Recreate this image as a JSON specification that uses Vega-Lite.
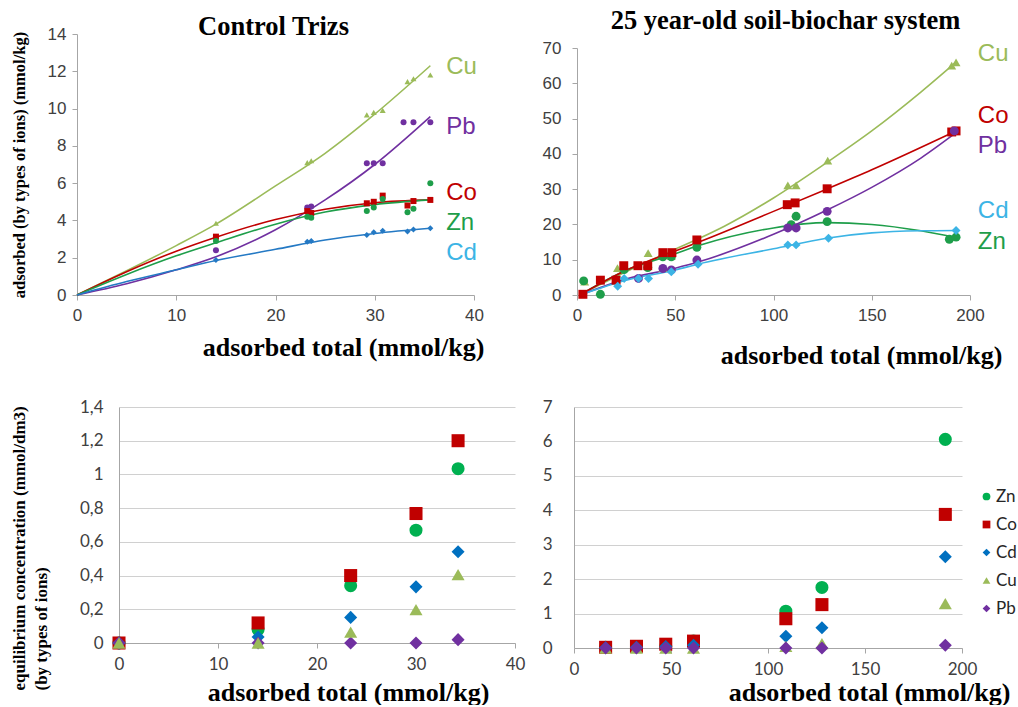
{
  "$schema": "https://vega.github.io/schema/vega-lite/v6.json",
  "padding": {"left": 10, "top": 7, "right": 0, "bottom": 0},
  "background": "white",
  "config": {
    "view": {"stroke": null},
    "axis": {"labelFlush": false, "labelOverlap": false, "domainColor": "#a6a6a6", "tickColor": "#a6a6a6", "titleColor": "black", "labelColor": "#404040"}
  },
  "datasets": {
    "tl_pts": [
      {"x": 14, "y": 3.85, "ion": "Cu"}, {"x": 23.2, "y": 7.1, "ion": "Cu"}, {"x": 23.6, "y": 7.2, "ion": "Cu"}, {"x": 29.2, "y": 9.66, "ion": "Cu"}, {"x": 29.9, "y": 9.8, "ion": "Cu"}, {"x": 30.8, "y": 9.9, "ion": "Cu"}, {"x": 33.3, "y": 11.45, "ion": "Cu"}, {"x": 33.9, "y": 11.6, "ion": "Cu"}, {"x": 35.6, "y": 11.8, "ion": "Cu"},
      {"x": 14, "y": 2.4, "ion": "Pb"}, {"x": 23.2, "y": 4.7, "ion": "Pb"}, {"x": 23.6, "y": 4.75, "ion": "Pb"}, {"x": 29.2, "y": 7.07, "ion": "Pb"}, {"x": 29.9, "y": 7.07, "ion": "Pb"}, {"x": 30.8, "y": 7.07, "ion": "Pb"}, {"x": 32.9, "y": 9.27, "ion": "Pb"}, {"x": 33.9, "y": 9.27, "ion": "Pb"}, {"x": 35.6, "y": 9.27, "ion": "Pb"},
      {"x": 14, "y": 3.13, "ion": "Co"}, {"x": 23.2, "y": 4.5, "ion": "Co"}, {"x": 23.6, "y": 4.4, "ion": "Co"}, {"x": 29.2, "y": 4.92, "ion": "Co"}, {"x": 29.9, "y": 5.0, "ion": "Co"}, {"x": 30.8, "y": 5.33, "ion": "Co"}, {"x": 33.3, "y": 4.8, "ion": "Co"}, {"x": 33.9, "y": 5.04, "ion": "Co"}, {"x": 35.6, "y": 5.1, "ion": "Co"},
      {"x": 14, "y": 2.9, "ion": "Zn"}, {"x": 23.2, "y": 4.2, "ion": "Zn"}, {"x": 23.6, "y": 4.15, "ion": "Zn"}, {"x": 29.2, "y": 4.5, "ion": "Zn"}, {"x": 29.9, "y": 4.69, "ion": "Zn"}, {"x": 30.8, "y": 5.15, "ion": "Zn"}, {"x": 33.3, "y": 4.44, "ion": "Zn"}, {"x": 33.9, "y": 4.62, "ion": "Zn"}, {"x": 35.6, "y": 6.0, "ion": "Zn"},
      {"x": 14, "y": 1.88, "ion": "Cd"}, {"x": 23.2, "y": 2.85, "ion": "Cd"}, {"x": 23.6, "y": 2.9, "ion": "Cd"}, {"x": 29.2, "y": 3.22, "ion": "Cd"}, {"x": 29.9, "y": 3.36, "ion": "Cd"}, {"x": 30.8, "y": 3.45, "ion": "Cd"}, {"x": 33.3, "y": 3.4, "ion": "Cd"}, {"x": 33.9, "y": 3.52, "ion": "Cd"}, {"x": 35.6, "y": 3.58, "ion": "Cd"}
    ],
    "tl_fit": [
      {"x": 0, "y": 0, "ion": "Cu"}, {"x": 5, "y": 1.3, "ion": "Cu"}, {"x": 10, "y": 2.65, "ion": "Cu"}, {"x": 14, "y": 3.8, "ion": "Cu"}, {"x": 20, "y": 5.85, "ion": "Cu"}, {"x": 25, "y": 7.6, "ion": "Cu"}, {"x": 30, "y": 9.7, "ion": "Cu"}, {"x": 35.6, "y": 12.3, "ion": "Cu"},
      {"x": 0, "y": 0, "ion": "Pb"}, {"x": 5, "y": 0.6, "ion": "Pb"}, {"x": 10, "y": 1.35, "ion": "Pb"}, {"x": 14, "y": 2.05, "ion": "Pb"}, {"x": 20, "y": 3.5, "ion": "Pb"}, {"x": 25, "y": 5.1, "ion": "Pb"}, {"x": 30, "y": 7.0, "ion": "Pb"}, {"x": 35.6, "y": 9.57, "ion": "Pb"},
      {"x": 0, "y": 0, "ion": "Co"}, {"x": 5, "y": 1.25, "ion": "Co"}, {"x": 10, "y": 2.35, "ion": "Co"}, {"x": 14, "y": 3.1, "ion": "Co"}, {"x": 20, "y": 4.05, "ion": "Co"}, {"x": 25, "y": 4.6, "ion": "Co"}, {"x": 30, "y": 4.95, "ion": "Co"}, {"x": 35.6, "y": 5.1, "ion": "Co"},
      {"x": 0, "y": 0, "ion": "Zn"}, {"x": 5, "y": 1.1, "ion": "Zn"}, {"x": 10, "y": 2.1, "ion": "Zn"}, {"x": 14, "y": 2.8, "ion": "Zn"}, {"x": 20, "y": 3.8, "ion": "Zn"}, {"x": 25, "y": 4.45, "ion": "Zn"}, {"x": 30, "y": 4.85, "ion": "Zn"}, {"x": 35.6, "y": 5.1, "ion": "Zn"},
      {"x": 0, "y": 0, "ion": "Cd"}, {"x": 5, "y": 0.72, "ion": "Cd"}, {"x": 10, "y": 1.35, "ion": "Cd"}, {"x": 14, "y": 1.85, "ion": "Cd"}, {"x": 20, "y": 2.45, "ion": "Cd"}, {"x": 25, "y": 2.95, "ion": "Cd"}, {"x": 30, "y": 3.3, "ion": "Cd"}, {"x": 35.6, "y": 3.58, "ion": "Cd"}
    ],
    "tl_lab": [
      {"x": 37.2, "y": 12.25, "ion": "Cu"}, {"x": 37.2, "y": 9.0, "ion": "Pb"}, {"x": 37.2, "y": 5.49, "ion": "Co"}, {"x": 37.2, "y": 3.85, "ion": "Zn"}, {"x": 37.2, "y": 2.24, "ion": "Cd"}
    ],
    "tr_pts": [
      {"x": 3.9, "y": 3.8, "ion": "Cu"}, {"x": 20.6, "y": 7.6, "ion": "Cu"}, {"x": 36.2, "y": 11.9, "ion": "Cu"}, {"x": 43.7, "y": 7.6, "ion": "Cu"}, {"x": 48, "y": 11, "ion": "Cu"}, {"x": 61, "y": 15.3, "ion": "Cu"}, {"x": 107.3, "y": 31.1, "ion": "Cu"}, {"x": 111.5, "y": 31.1, "ion": "Cu"}, {"x": 127.6, "y": 38.1, "ion": "Cu"}, {"x": 190.7, "y": 65, "ion": "Cu"}, {"x": 192.9, "y": 65.9, "ion": "Cu"},
      {"x": 3.4, "y": 4.0, "ion": "Zn"}, {"x": 11.9, "y": 0.2, "ion": "Zn"}, {"x": 24, "y": 7.2, "ion": "Zn"}, {"x": 36, "y": 7.8, "ion": "Zn"}, {"x": 43.7, "y": 10.8, "ion": "Zn"}, {"x": 48, "y": 10.8, "ion": "Zn"}, {"x": 61, "y": 13.5, "ion": "Zn"}, {"x": 109, "y": 19.9, "ion": "Zn"}, {"x": 111.5, "y": 22.3, "ion": "Zn"}, {"x": 127.3, "y": 20.8, "ion": "Zn"}, {"x": 189.5, "y": 15.8, "ion": "Zn"}, {"x": 192.9, "y": 16.4, "ion": "Zn"},
      {"x": 3, "y": 0.2, "ion": "Co"}, {"x": 11.9, "y": 4.2, "ion": "Co"}, {"x": 19.9, "y": 4.2, "ion": "Co"}, {"x": 23.8, "y": 8.3, "ion": "Co"}, {"x": 31, "y": 8.3, "ion": "Co"}, {"x": 36, "y": 8.3, "ion": "Co"}, {"x": 43.7, "y": 12, "ion": "Co"}, {"x": 48.3, "y": 12, "ion": "Co"}, {"x": 61, "y": 15.6, "ion": "Co"}, {"x": 107, "y": 25.6, "ion": "Co"}, {"x": 111, "y": 26.1, "ion": "Co"}, {"x": 127.3, "y": 30.1, "ion": "Co"}, {"x": 190.7, "y": 46.2, "ion": "Co"}, {"x": 192.9, "y": 46.5, "ion": "Co"},
      {"x": 31.3, "y": 4.7, "ion": "Pb"}, {"x": 43.7, "y": 7.5, "ion": "Pb"}, {"x": 48, "y": 7.1, "ion": "Pb"}, {"x": 61, "y": 9.9, "ion": "Pb"}, {"x": 107.3, "y": 19, "ion": "Pb"}, {"x": 111.5, "y": 19, "ion": "Pb"}, {"x": 127.3, "y": 23.7, "ion": "Pb"}, {"x": 192, "y": 46.5, "ion": "Pb"},
      {"x": 20.7, "y": 2.5, "ion": "Cd"}, {"x": 24, "y": 4.7, "ion": "Cd"}, {"x": 31.3, "y": 4.7, "ion": "Cd"}, {"x": 36.4, "y": 4.7, "ion": "Cd"}, {"x": 48, "y": 6.6, "ion": "Cd"}, {"x": 61.6, "y": 8.7, "ion": "Cd"}, {"x": 107.3, "y": 14.2, "ion": "Cd"}, {"x": 111.5, "y": 14.2, "ion": "Cd"}, {"x": 128, "y": 16.1, "ion": "Cd"}, {"x": 192.9, "y": 18.3, "ion": "Cd"}
    ],
    "tr_fit": [
      {"x": 3, "y": 0.5, "ion": "Cu"}, {"x": 25, "y": 6.6, "ion": "Cu"}, {"x": 50, "y": 13, "ion": "Cu"}, {"x": 62, "y": 16, "ion": "Cu"}, {"x": 75, "y": 19.5, "ion": "Cu"}, {"x": 100, "y": 27.5, "ion": "Cu"}, {"x": 127, "y": 37.5, "ion": "Cu"}, {"x": 150, "y": 46.5, "ion": "Cu"}, {"x": 175, "y": 57.5, "ion": "Cu"}, {"x": 192.9, "y": 66, "ion": "Cu"},
      {"x": 3, "y": 0.5, "ion": "Zn"}, {"x": 25, "y": 7, "ion": "Zn"}, {"x": 50, "y": 11.7, "ion": "Zn"}, {"x": 62, "y": 14, "ion": "Zn"}, {"x": 100, "y": 19, "ion": "Zn"}, {"x": 127, "y": 20.5, "ion": "Zn"}, {"x": 150, "y": 20, "ion": "Zn"}, {"x": 175, "y": 18.2, "ion": "Zn"}, {"x": 192.9, "y": 16.3, "ion": "Zn"},
      {"x": 3, "y": 0.5, "ion": "Co"}, {"x": 25, "y": 7, "ion": "Co"}, {"x": 50, "y": 12.5, "ion": "Co"}, {"x": 62, "y": 15, "ion": "Co"}, {"x": 100, "y": 23.7, "ion": "Co"}, {"x": 127, "y": 30, "ion": "Co"}, {"x": 150, "y": 35.5, "ion": "Co"}, {"x": 192.9, "y": 46.5, "ion": "Co"},
      {"x": 3, "y": 0.3, "ion": "Pb"}, {"x": 25, "y": 4.5, "ion": "Pb"}, {"x": 50, "y": 7.6, "ion": "Pb"}, {"x": 62, "y": 9.4, "ion": "Pb"}, {"x": 100, "y": 17.2, "ion": "Pb"}, {"x": 127, "y": 24, "ion": "Pb"}, {"x": 150, "y": 30.5, "ion": "Pb"}, {"x": 175, "y": 38.8, "ion": "Pb"}, {"x": 192.9, "y": 46, "ion": "Pb"},
      {"x": 3, "y": 0.3, "ion": "Cd"}, {"x": 25, "y": 4.2, "ion": "Cd"}, {"x": 50, "y": 7.1, "ion": "Cd"}, {"x": 62, "y": 8.8, "ion": "Cd"}, {"x": 100, "y": 13.1, "ion": "Cd"}, {"x": 127, "y": 16.1, "ion": "Cd"}, {"x": 150, "y": 17.6, "ion": "Cd"}, {"x": 175, "y": 18.2, "ion": "Cd"}, {"x": 192.9, "y": 18.3, "ion": "Cd"}
    ],
    "tr_lab": [
      {"x": 204, "y": 68.2, "ion": "Cu"}, {"x": 204, "y": 50.8, "ion": "Co"}, {"x": 204, "y": 42.2, "ion": "Pb"}, {"x": 204, "y": 23.9, "ion": "Cd"}, {"x": 204, "y": 15.1, "ion": "Zn"}
    ],
    "bl": [
      {"x": 0, "y": 0, "ion": "Zn"}, {"x": 14.05, "y": 0.08, "ion": "Zn"}, {"x": 23.4, "y": 0.34, "ion": "Zn"}, {"x": 30, "y": 0.669, "ion": "Zn"}, {"x": 34.25, "y": 1.034, "ion": "Zn"},
      {"x": 0, "y": 0, "ion": "Co"}, {"x": 14.05, "y": 0.119, "ion": "Co"}, {"x": 23.4, "y": 0.4, "ion": "Co"}, {"x": 30, "y": 0.768, "ion": "Co"}, {"x": 34.25, "y": 1.2, "ion": "Co"},
      {"x": 0, "y": 0, "ion": "Cd"}, {"x": 14.05, "y": 0.036, "ion": "Cd"}, {"x": 23.4, "y": 0.152, "ion": "Cd"}, {"x": 30, "y": 0.333, "ion": "Cd"}, {"x": 34.25, "y": 0.541, "ion": "Cd"},
      {"x": 0, "y": 0, "ion": "Pb"}, {"x": 14.05, "y": 0, "ion": "Pb"}, {"x": 23.4, "y": 0, "ion": "Pb"}, {"x": 30, "y": 0, "ion": "Pb"}, {"x": 34.25, "y": 0.02, "ion": "Pb"},
      {"x": 0, "y": 0, "ion": "Cu"}, {"x": 14.05, "y": 0, "ion": "Cu"}, {"x": 23.4, "y": 0.065, "ion": "Cu"}, {"x": 30, "y": 0.198, "ion": "Cu"}, {"x": 34.25, "y": 0.406, "ion": "Cu"}
    ],
    "br": [
      {"x": 16.3, "y": 0.02, "ion": "Zn"}, {"x": 32.2, "y": 0.03, "ion": "Zn"}, {"x": 47.3, "y": 0.06, "ion": "Zn"}, {"x": 61.6, "y": 0.2, "ion": "Zn"}, {"x": 109.2, "y": 1.07, "ion": "Zn"}, {"x": 127.8, "y": 1.76, "ion": "Zn"}, {"x": 191.4, "y": 6.06, "ion": "Zn"},
      {"x": 16.3, "y": 0.02, "ion": "Co"}, {"x": 32.2, "y": 0.05, "ion": "Co"}, {"x": 47.3, "y": 0.11, "ion": "Co"}, {"x": 61.6, "y": 0.2, "ion": "Co"}, {"x": 109.2, "y": 0.85, "ion": "Co"}, {"x": 127.8, "y": 1.26, "ion": "Co"}, {"x": 191.4, "y": 3.88, "ion": "Co"},
      {"x": 16.3, "y": 0.01, "ion": "Cd"}, {"x": 32.2, "y": 0.02, "ion": "Cd"}, {"x": 47.3, "y": 0.04, "ion": "Cd"}, {"x": 61.6, "y": 0.08, "ion": "Cd"}, {"x": 109.2, "y": 0.34, "ion": "Cd"}, {"x": 127.8, "y": 0.59, "ion": "Cd"}, {"x": 191.4, "y": 2.65, "ion": "Cd"},
      {"x": 16.3, "y": 0, "ion": "Cu"}, {"x": 32.2, "y": 0, "ion": "Cu"}, {"x": 47.3, "y": 0, "ion": "Cu"}, {"x": 61.6, "y": 0, "ion": "Cu"}, {"x": 109.2, "y": 0.05, "ion": "Cu"}, {"x": 127.8, "y": 0.13, "ion": "Cu"}, {"x": 191.4, "y": 1.29, "ion": "Cu"},
      {"x": 16.3, "y": 0, "ion": "Pb"}, {"x": 32.2, "y": 0, "ion": "Pb"}, {"x": 47.3, "y": 0, "ion": "Pb"}, {"x": 61.6, "y": 0, "ion": "Pb"}, {"x": 109.2, "y": 0, "ion": "Pb"}, {"x": 127.8, "y": 0, "ion": "Pb"}, {"x": 191.4, "y": 0.08, "ion": "Pb"}
    ]
  },
  "columns": 2,
  "align": "none",
  "spacing": {"row": 30, "column": 17},
  "resolve": {"scale": {"color": "independent", "shape": "independent"}, "legend": {"color": "independent", "shape": "independent"}},
  "concat": [
    {
      "width": 355,
      "height": 261,
      "title": {"text": "Control Trizs", "font": "Liberation Serif", "fontSize": 26.5, "fontWeight": "bold", "color": "black", "offset": -15, "dx": -23},
      "encoding": {
        "x": {"field": "x", "type": "quantitative", "scale": {"domain": [0, 40], "nice": false, "range": [-42, 355]},
          "axis": {"title": "adsorbed total (mmol/kg)", "values": [0, 10, 20, 30, 40], "grid": false, "tickSize": 5, "labelFont": "Liberation Sans", "labelFontSize": 17, "labelPadding": 7, "titleFont": "Liberation Serif", "titleFontSize": 26, "titleFontWeight": "bold", "titleX": 224, "titleY": 60, "titleBaseline": "alphabetic"}},
        "y": {"field": "y", "type": "quantitative", "scale": {"domain": [0, 14], "nice": false},
          "axis": {"title": "adsorbed (by types of ions) (mmol/kg)", "offset": 42, "values": [0, 2, 4, 6, 8, 10, 12, 14], "grid": false, "tickSize": 5, "labelFont": "Liberation Sans", "labelFontSize": 17, "labelPadding": 6, "titleFont": "Liberation Serif", "titleFontSize": 16.5, "titleFontWeight": "bold", "titleX": -66, "titleBaseline": "top"}}
      },
      "layer": [
        {"data": {"name": "tl_fit"}, "mark": {"type": "line", "strokeWidth": 1.6, "interpolate": "monotone"},
          "encoding": {"detail": {"field": "ion"}, "color": {"field": "ion", "legend": null, "scale": {"domain": ["Cu", "Pb", "Co", "Zn", "Cd"], "range": ["#9bbb59", "#7030a0", "#c00000", "#1e9e4a", "#2479c4"]}}}},
        {"data": {"name": "tl_pts"}, "mark": {"type": "point", "filled": true, "opacity": 1, "size": 36},
          "encoding": {"color": {"field": "ion", "legend": null, "scale": {"domain": ["Cu", "Pb", "Co", "Zn", "Cd"], "range": ["#9bbb59", "#7030a0", "#c00000", "#1e9e4a", "#2479c4"]}},
            "shape": {"field": "ion", "legend": null, "scale": {"domain": ["Cu", "Pb", "Co", "Zn", "Cd"], "range": ["triangle-up", "circle", "square", "circle", "diamond"]}}}},
        {"data": {"name": "tl_lab"}, "mark": {"type": "text", "align": "left", "baseline": "middle", "font": "Liberation Sans", "fontSize": 24},
          "encoding": {"text": {"field": "ion"}, "color": {"field": "ion", "legend": null, "scale": {"domain": ["Cu", "Pb", "Co", "Zn", "Cd"], "range": ["#9bbb59", "#7030a0", "#c00000", "#1e9e4a", "#3cb4e5"]}}}}
      ],
      "resolve": {"scale": {"color": "independent", "shape": "independent"}}
    },
    {
      "width": 393,
      "height": 261,
      "title": {"text": "25 year-old soil-biochar system", "font": "Liberation Serif", "fontSize": 26.5, "fontWeight": "bold", "color": "black", "offset": 0, "dx": 12},
      "encoding": {
        "x": {"field": "x", "type": "quantitative", "scale": {"domain": [0, 200], "nice": false},
          "axis": {"title": "adsorbed total (mmol/kg)", "values": [0, 50, 100, 150, 200], "grid": false, "tickSize": 5, "labelFont": "Liberation Sans", "labelFontSize": 17, "labelPadding": 7, "titleFont": "Liberation Serif", "titleFontSize": 26, "titleFontWeight": "bold", "titleX": 284, "titleY": 68, "titleBaseline": "alphabetic"}},
        "y": {"field": "y", "type": "quantitative", "scale": {"domain": [0, 70], "nice": false, "range": [261, 14]},
          "axis": {"title": null, "values": [0, 10, 20, 30, 40, 50, 60, 70], "grid": false, "tickSize": 5, "labelFont": "Liberation Sans", "labelFontSize": 17, "labelPadding": 11}}
      },
      "layer": [
        {"data": {"name": "tr_fit"}, "mark": {"type": "line", "strokeWidth": 1.6, "interpolate": "monotone"},
          "encoding": {"detail": {"field": "ion"}, "color": {"field": "ion", "legend": null, "scale": {"domain": ["Cu", "Co", "Pb", "Cd", "Zn"], "range": ["#9bbb59", "#c00000", "#7030a0", "#3cb4e5", "#1e9e4a"]}}}},
        {"data": {"name": "tr_pts"}, "mark": {"type": "point", "filled": true, "opacity": 1, "size": 80},
          "encoding": {"color": {"field": "ion", "legend": null, "scale": {"domain": ["Cu", "Co", "Pb", "Cd", "Zn"], "range": ["#9bbb59", "#c00000", "#7030a0", "#3cb4e5", "#1e9e4a"]}},
            "shape": {"field": "ion", "legend": null, "scale": {"domain": ["Cu", "Co", "Pb", "Cd", "Zn"], "range": ["triangle-up", "square", "circle", "diamond", "circle"]}}}},
        {"data": {"name": "tr_lab"}, "mark": {"type": "text", "align": "left", "baseline": "middle", "font": "Liberation Sans", "fontSize": 24},
          "encoding": {"text": {"field": "ion"}, "color": {"field": "ion", "legend": null, "scale": {"domain": ["Cu", "Co", "Pb", "Cd", "Zn"], "range": ["#9bbb59", "#c00000", "#7030a0", "#3cb4e5", "#1e9e4a"]}}}}
      ],
      "resolve": {"scale": {"color": "independent", "shape": "independent"}}
    },
    {
      "width": 396,
      "height": 236,
      "data": {"name": "bl"},
      "mark": {"type": "point", "filled": true, "opacity": 1, "size": 170},
      "encoding": {
        "x": {"field": "x", "type": "quantitative", "scale": {"domain": [0, 40], "nice": false},
          "axis": {"title": "adsorbed total (mmol/kg)", "values": [0, 10, 20, 30, 40], "grid": false, "tickSize": 5, "labelFont": "Lato", "labelFontSize": 17, "labelPadding": 8, "titleFont": "Liberation Serif", "titleFontSize": 26, "titleFontWeight": "bold", "titleX": 229, "titleY": 57, "titleBaseline": "alphabetic"}},
        "y": {"field": "y", "type": "quantitative", "scale": {"domain": [0, 1.4], "nice": false},
          "axis": {"title": ["equilibrium concentration (mmol/dm3)", "(by types of ions)"], "values": [0, 0.2, 0.4, 0.6, 0.8, 1, 1.2, 1.4], "labelExpr": "replace(toString(datum.value), '.', ',')", "grid": true, "gridColor": "#d0d0d0", "ticks": false, "labelFont": "Lato", "labelFontSize": 17, "labelPadding": 16, "titleFont": "Liberation Serif", "titleFontSize": 17, "titleFontWeight": "bold", "titleLineHeight": 22, "titleAlign": "left", "titleX": -108, "titleY": 283, "titleBaseline": "top"}},
        "color": {"field": "ion", "legend": null, "scale": {"domain": ["Zn", "Co", "Cd", "Cu", "Pb"], "range": ["#00b050", "#c00000", "#0070c0", "#9bbb59", "#7030a0"]}},
        "shape": {"field": "ion", "legend": null, "scale": {"domain": ["Zn", "Co", "Cd", "Cu", "Pb"], "range": ["circle", "square", "diamond", "triangle-up", "diamond"]}}
      }
    },
    {
      "width": 388,
      "height": 241,
      "data": {"name": "br"},
      "mark": {"type": "point", "filled": true, "opacity": 1, "size": 170},
      "encoding": {
        "x": {"field": "x", "type": "quantitative", "scale": {"domain": [0, 200], "nice": false},
          "axis": {"title": "adsorbed total (mmol/kg)", "values": [0, 50, 100, 150, 200], "grid": false, "tickSize": 5, "labelFont": "Lato", "labelFontSize": 17, "labelPadding": 8, "titleFont": "Liberation Serif", "titleFontSize": 26, "titleFontWeight": "bold", "titleX": 295, "titleY": 52, "titleBaseline": "alphabetic"}},
        "y": {"field": "y", "type": "quantitative", "scale": {"domain": [0, 7], "nice": false},
          "axis": {"title": null, "values": [0, 1, 2, 3, 4, 5, 6, 7], "grid": true, "gridColor": "#d0d0d0", "ticks": false, "labelFont": "Lato", "labelFontSize": 17, "labelPadding": 22}},
        "color": {"field": "ion", "scale": {"domain": ["Zn", "Co", "Cd", "Cu", "Pb"], "range": ["#00b050", "#c00000", "#0070c0", "#9bbb59", "#7030a0"]},
          "legend": {"orient": "none", "legendX": 404, "legendY": 81, "padding": 0, "title": null, "symbolSize": 60, "labelFont": "Lato", "labelFontSize": 17, "labelColor": "#262626", "rowPadding": 10, "labelOffset": 1, "symbolStrokeWidth": 0}},
        "shape": {"field": "ion", "scale": {"domain": ["Zn", "Co", "Cd", "Cu", "Pb"], "range": ["circle", "square", "diamond", "triangle-up", "diamond"]},
          "legend": {"orient": "none", "legendX": 404, "legendY": 81, "padding": 0, "title": null, "symbolSize": 60, "labelFont": "Lato", "labelFontSize": 17, "labelColor": "#262626", "rowPadding": 10, "labelOffset": 1, "symbolStrokeWidth": 0}}
      }
    }
  ]
}
